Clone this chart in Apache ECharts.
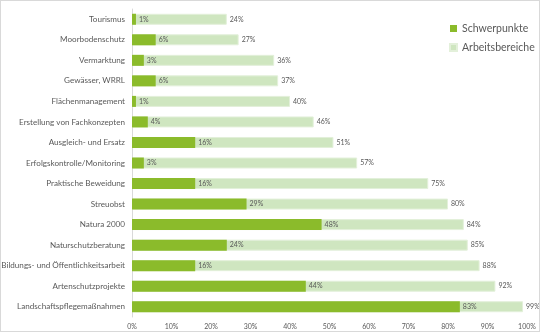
<!DOCTYPE html>
<html><head><meta charset="utf-8">
<script src="https://cdn.jsdelivr.net/npm/echarts@6/dist/echarts.min.js"></script>
<style>html,body{margin:0;padding:0;background:#fff}#c{width:538px;height:330px;border:1px solid #d9d9d9}</style>
</head><body><div id="c"></div>
<script>
const categories = ["Tourismus","Moorbodenschutz","Vermarktung","Gewässer, WRRL","Flächenmanagement","Erstellung von Fachkonzepten","Ausgleich- und Ersatz","Erfolgskontrolle/Monitoring","Praktische Beweidung","Streuobst","Natura 2000","Naturschutzberatung","Bildungs- und Öffentlichkeitsarbeit","Artenschutzprojekte","Landschaftspflegemaßnahmen"];
const schwerpunkte = [1,6,3,6,1,4,16,3,16,29,48,24,16,44,83];
const arbeitsbereiche = [24,27,36,37,40,46,51,57,75,80,84,85,88,92,99];
const xTicks = [0,10,20,30,40,50,60,70,80,90,100];
const font = "Lato";
const chart = echarts.init(document.getElementById('c'));
chart.setOption({
  animation:false,
  textStyle:{fontFamily:font},
  grid:{left:131,right:12,top:8,bottom:14,containLabel:false,outerBoundsMode:'none'},
  legend:{orient:'vertical',left:443,top:17,itemWidth:7,itemHeight:7,itemGap:8,icon:'rect',
    textStyle:{fontFamily:font,fontSize:10.5,color:'#595959'},data:['Schwerpunkte','Arbeitsbereiche']},
  xAxis:{type:'value',min:0,max:100,interval:10,axisLine:{show:false},axisTick:{show:false},splitLine:{show:false},
    axisLabel:{formatter:v=>v+'%',fontSize:7,color:'#595959',margin:6,fontFamily:font}},
  yAxis:{type:'category',inverse:true,data:categories,axisTick:{show:false},
    axisLine:{lineStyle:{color:'#d9d9d9'}},
    axisLabel:{fontSize:8.1,color:'#595959',margin:7,fontFamily:font,overflow:'none',width:200}},
  series:[
    {name:'Arbeitsbereiche',type:'bar',data:arbeitsbereiche,barWidth:11,barGap:'-100%',z:1,
      itemStyle:{color:'#cfe6c0',borderColor:'#e3f0da',borderWidth:1},
      label:{show:true,position:'right',formatter:'{c}%',fontSize:7,color:'#595959',distance:3}},
    {name:'Schwerpunkte',type:'bar',data:schwerpunkte,barWidth:11,barGap:'-100%',z:2,
      itemStyle:{color:'#8bbb2b'},
      label:{show:true,position:'right',formatter:'{c}%',fontSize:7,color:'#595959',distance:3}}
  ]
});
</script></body></html>
